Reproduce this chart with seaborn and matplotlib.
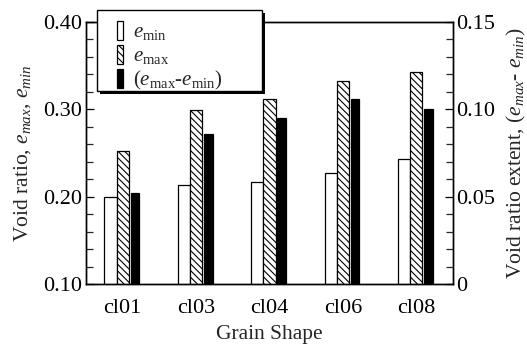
import matplotlib
matplotlib.use("Agg")
import matplotlib.pyplot as plt
from matplotlib.patches import Patch, Rectangle
from matplotlib.ticker import MultipleLocator, FormatStrFormatter
import numpy as np
import pandas as pd
import seaborn as sns

# Void ratio data per grain shape
shapes = ["cl01", "cl03", "cl04", "cl06", "cl08"]
e_min = [0.200, 0.213, 0.217, 0.227, 0.243]
e_max = [0.252, 0.299, 0.312, 0.333, 0.343]
e_range = [0.052, 0.086, 0.095, 0.106, 0.100]

series_order = ["emin", "emax", "range"]
series_labels = [r"$e_{\rm min}$", r"$e_{\rm max}$", r"$(e_{\rm max}$-$e_{\rm min})$"]
HATCH = "\\\\\\\\\\"

W, H = 527, 347

sns.set_theme(style="ticks")
plt.rcParams.update({
    "font.family": ["Liberation Serif", "DejaVu Serif"],
    "mathtext.fontset": "custom",
    "mathtext.rm": "Liberation Serif",
    "mathtext.it": "Liberation Serif:italic",
    "mathtext.bf": "Liberation Serif:bold",
    "axes.linewidth": 1.0,
    "hatch.linewidth": 0.8,
    "hatch.color": "black",
})

left_df = pd.DataFrame({
    "shape": shapes * 2,
    "value": e_min + e_max,
    "series": ["emin"] * len(shapes) + ["emax"] * len(shapes),
})
right_df = pd.DataFrame({"shape": shapes, "value": e_range, "series": ["range"] * len(shapes)})

palette = {"emin": "white", "emax": "white", "range": "black"}

fig = plt.figure(figsize=(W / 100, H / 100), dpi=100)
ax = fig.add_axes([86 / W, 1 - 284 / H, (453 - 86) / W, (284 - 22) / H])
ax2 = ax.twinx()

sns.barplot(data=left_df, x="shape", y="value", hue="series", order=shapes,
            hue_order=series_order, palette=palette, width=0.5, gap=0, dodge=True,
            edgecolor="black", linewidth=0.9, legend=False, ax=ax, errorbar=None)
sns.barplot(data=right_df, x="shape", y="value", hue="series", order=shapes,
            hue_order=series_order, palette=palette, width=0.5, gap=0.3, dodge=True,
            edgecolor="black", linewidth=0.9, legend=False, ax=ax2, errorbar=None)

# hatch the e_max bars
for cont in ax.containers:
    vals = np.asarray(cont.datavalues, dtype=float)
    if len(vals) == len(e_max) and np.allclose(vals, e_max):
        for p in cont.patches:
            p.set_hatch(HATCH)

ax.set_xlim(-0.5, 4.5)
ax.set_ylim(0.10, 0.40)
ax2.set_ylim(0, 0.15)

ax.yaxis.set_major_locator(MultipleLocator(0.10))
ax.yaxis.set_minor_locator(MultipleLocator(0.02))
ax.yaxis.set_major_formatter(FormatStrFormatter("%.2f"))
ax2.set_yticks([0, 0.05, 0.10, 0.15])
ax2.set_yticklabels(["0", "0.05", "0.10", "0.15"])
ax2.yaxis.set_minor_locator(MultipleLocator(0.01))

tick_fs = 16
label_fs = 15.5
ax.tick_params(axis="y", which="major", direction="in", length=6, width=0.9,
               labelsize=tick_fs, pad=3, colors="black")
ax.tick_params(axis="y", which="minor", direction="in", length=5, width=0.9)
ax2.tick_params(axis="y", which="major", direction="in", length=6, width=0.9,
                labelsize=tick_fs, pad=2, colors="black")
ax2.tick_params(axis="y", which="minor", direction="in", length=5, width=0.9)
ax.tick_params(axis="x", length=0, labelsize=tick_fs, pad=11, colors="black")

for a in (ax, ax2):
    for s in a.spines.values():
        s.set_visible(True)
        s.set_color("black")
        s.set_linewidth(1.0)

ax.set_xlabel("Grain Shape", fontsize=label_fs, labelpad=5)
ax.set_ylabel(r"Void ratio, $e_{max}$, $e_{min}$", fontsize=label_fs, labelpad=7)
ax2.set_ylabel(r"Void ratio extent, ($e_{max}$- $e_{min}$)", fontsize=label_fs, labelpad=7)

# legend box with a solid drop shadow
bx0, by0, bx1, by1 = 97, 10, 262, 91
shadow_off = 3
fig.add_artist(Rectangle(((bx0 + shadow_off) / W, 1 - (by1 + shadow_off) / H),
                         (bx1 - bx0) / W, (by1 - by0) / H, transform=fig.transFigure,
                         facecolor="black", edgecolor="black", linewidth=0, zorder=3))
fig.add_artist(Rectangle((bx0 / W, 1 - by1 / H), (bx1 - bx0) / W, (by1 - by0) / H,
                         transform=fig.transFigure, facecolor="white",
                         edgecolor="black", linewidth=1.0, zorder=3.5))

handles = [
    Patch(facecolor="white", edgecolor="black", linewidth=0.9),
    Patch(facecolor="white", edgecolor="black", linewidth=0.9, hatch=HATCH),
    Patch(facecolor="black", edgecolor="black", linewidth=0.9),
]
leg_fs = 15
leg = fig.legend(handles, series_labels, loc="upper left",
                 bbox_to_anchor=(117 / W, 1 - 21 / H), bbox_transform=fig.transFigure,
                 borderaxespad=0, borderpad=0, fontsize=leg_fs,
                 handlelength=0.29, handleheight=1.0, handletextpad=0.5,
                 labelspacing=0.12, frameon=False)
leg.set_zorder(5)

fig.savefig("out.png", dpi=100)
